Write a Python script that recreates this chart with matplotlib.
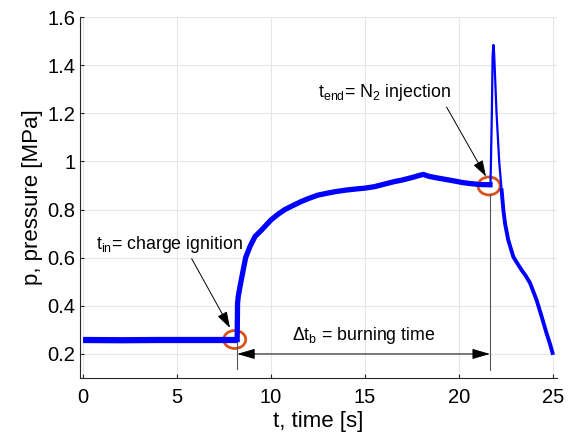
import matplotlib
matplotlib.use('Agg')
from matplotlib import pyplot as plt
from matplotlib.patches import Ellipse

plt.rcParams['font.family'] = ['Liberation Sans', 'DejaVu Sans']
plt.rcParams['mathtext.fontset'] = 'custom'
plt.rcParams['mathtext.rm'] = 'Liberation Sans'
plt.rcParams['mathtext.it'] = 'Liberation Sans:italic'

# pressure trace
t_base = [0.0, 2.0, 4.0, 6.0, 8.2]
p_base = [0.258, 0.257, 0.258, 0.258, 0.258]

t_burn = [8.2, 8.22, 8.26, 8.35, 8.5, 8.65, 8.88, 9.15, 9.5, 10.0, 10.4, 10.74, 11.2, 11.6,
          12.0, 12.5, 13.0, 13.4, 14.0, 14.6, 15.0, 15.5, 16.0, 16.5, 17.0, 17.5, 17.9,
          18.1, 18.4, 18.8, 19.3, 19.8, 20.2, 20.6, 21.1, 21.65]
p_burn = [0.26, 0.41, 0.44, 0.48, 0.54, 0.60, 0.646, 0.688, 0.715, 0.757, 0.782, 0.80, 0.818, 0.833,
          0.846, 0.86, 0.868, 0.874, 0.881, 0.886, 0.889, 0.895, 0.905, 0.915, 0.923, 0.933, 0.942,
          0.946, 0.938, 0.932, 0.925, 0.918, 0.912, 0.908, 0.904, 0.903]

t_spike = [21.65, 21.68, 21.75, 21.79, 21.83, 21.87, 22.0, 22.14, 22.27]
p_spike = [0.905, 0.91, 1.2, 1.44, 1.484, 1.45, 1.2, 1.0, 0.88]

t_tail = [22.27, 22.36, 22.45, 22.62, 22.89, 23.1, 23.33, 23.55, 23.78, 24.13, 24.4, 24.66,
          24.85, 24.98]
p_tail = [0.88, 0.80, 0.743, 0.674, 0.604, 0.577, 0.549, 0.525, 0.495, 0.424, 0.355, 0.286,
          0.24, 0.204]

t_in = 8.2
t_end = 21.65
xticks = [0, 5, 10, 15, 20, 25]
yticks = [0.2, 0.4, 0.6, 0.8, 1.0, 1.2, 1.4, 1.6]
ylabels = ['0.2', '0.4', '0.6', '0.8', '1', '1.2', '1.4', '1.6']

fig = plt.figure(figsize=(5.7, 4.44), dpi=100)
ax = fig.add_axes([0.1404, 0.1486, 0.8366, 0.8131])

ax.plot(t_base, p_base, color='#0000ff', lw=4.5, solid_capstyle='butt')
ax.plot(t_burn, p_burn, color='#0000ff', lw=3.8)
ax.plot(t_spike, p_spike, color='#0000ff', lw=1.6)
ax.plot(t_tail, p_tail, color='#0000ff', lw=2.8)

ax.set_xlim(-0.16, 25.21)
ax.set_ylim(0.1, 1.6)
ax.set_xticks(xticks)
ax.set_yticks(yticks)
ax.set_yticklabels(ylabels)
ax.grid(True, color='#e6e6e6', lw=0.8)
ax.set_axisbelow(True)
for s in ['top', 'right']:
    ax.spines[s].set_visible(False)
for s in ['left', 'bottom']:
    ax.spines[s].set_color('#262626')
    ax.spines[s].set_linewidth(0.8)
ax.tick_params(direction='in', length=3, width=0.8, colors='#262626', labelsize=14.5, labelcolor='black')
ax.tick_params(axis='x', pad=7)
ax.set_xlabel('t, time [s]', fontsize=16, labelpad=3)
ax.set_ylabel('p, pressure [MPa]', fontsize=16, labelpad=3)

# markers for ignition and injection
ax.plot([t_in, t_in], [0.137, 0.25], color='#555555', lw=0.8)
ax.plot([t_end, t_end], [0.133, 0.865], color='#555555', lw=0.8)
ax.add_patch(Ellipse((8.07, 0.26), 22 / 18.8, 18 / 240.7, fill=False, ec='#D95319', lw=2))
ax.add_patch(Ellipse((21.6, 0.898), 22 / 18.8, 18 / 240.7, fill=False, ec='#D95319', lw=2))

arr = dict(arrowstyle='-|>,head_length=1.0,head_width=0.32', color='black', lw=0.7,
           shrinkA=0, shrinkB=0)
ax.annotate('', xy=(7.82, 0.308), xytext=(5.78, 0.596), arrowprops=arr)
ax.annotate('', xy=(21.44, 0.937), xytext=(19.34, 1.226), arrowprops=arr)
ax.annotate('', xy=(t_end, 0.2), xytext=(t_in, 0.2),
            arrowprops=dict(arrowstyle='<|-|>,head_length=1.1,head_width=0.32', color='black',
                            lw=0.7, shrinkA=0, shrinkB=0))

ax.text(0.7, 0.637, r'$\mathrm{t_{in}}$= charge ignition', fontsize=12.8)
ax.text(12.5, 1.269, r'$\mathrm{t_{end}}$= N$\mathrm{_2}$ injection', fontsize=12.8)
ax.text(11.12, 0.258, r'$\Delta\mathrm{t_b}$ = burning time', fontsize=12.8)

fig.savefig('out.png', dpi=100)
